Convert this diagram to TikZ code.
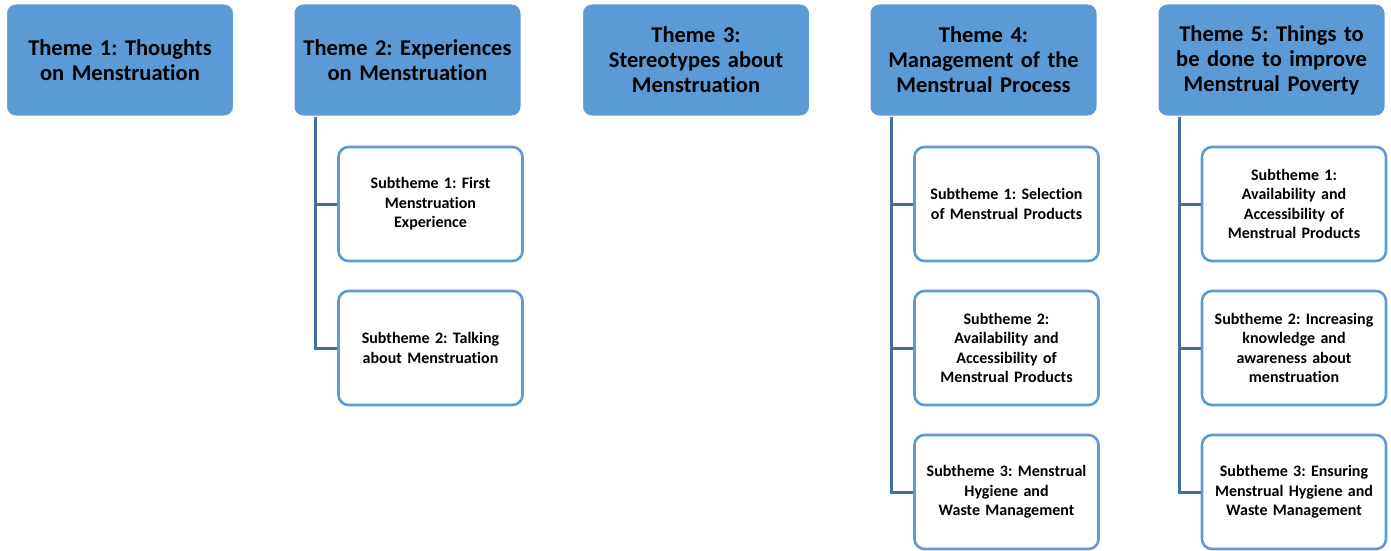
\documentclass[tikz,border=0pt]{standalone}
\usepackage{fontspec}
\setmainfont{Carlito}[Ligatures=NoCommon]
\frenchspacing
\definecolor{themefill}{RGB}{91,155,213}
\definecolor{subborder}{RGB}{91,155,213}
\definecolor{linkline}{RGB}{65,113,156}
\begin{document}
\begin{tikzpicture}[x=1pt,y=-1pt,
  theme/.style={draw=white, line width=1pt, fill=themefill, rounded corners=9pt,
    minimum width=227pt, minimum height=112pt, inner sep=0pt, align=center,
    font=\fontsize{22.5}{25}\selectfont\bfseries, text width=222pt},
  sub/.style={draw=subborder, line width=2.6pt, fill=white, rounded corners=10pt,
    minimum width=184pt, minimum height=114pt, inner sep=0pt, align=center,
    font=\fontsize{16}{19.5}\selectfont\bfseries, text width=180pt},
  link/.style={draw=linkline, line width=3pt}]
\useasboundingbox (0,0) rectangle (1391,551);
% themes
\node[theme] (t1) at (120,60) {Theme 1: Thoughts\\on Menstruation};
\node[theme] (t2) at (407.5,60) {Theme 2: Experiences\\on Menstruation};
\node[theme] (t3) at (696,60) {Theme 3:\\Stereotypes about\\Menstruation};
\node[theme] (t4) at (983.5,60) {Theme 4:\\Management of the\\Menstrual Process};
\node[theme] (t5) at (1271.5,60) {Theme 5: Things to\\be done to improve\\Menstrual Poverty};
% subthemes theme 2
\node[sub] (s21) at (430.5,204) {Subtheme 1: First\\Menstruation\\Experience};
\node[sub] (s22) at (430.5,348) {Subtheme 2: Talking\\about Menstruation};
% subthemes theme 4
\node[sub] (s41) at (1006.5,204) {Subtheme 1: Selection\\of Menstrual Products};
\node[sub] (s42) at (1006.5,348) {Subtheme 2:\\Availability and\\Accessibility of\\Menstrual Products};
\node[sub] (s43) at (1006.5,492) {Subtheme 3: Menstrual\\Hygiene and\\Waste Management};
% subthemes theme 5
\node[sub] (s51) at (1294,204) {Subtheme 1:\\Availability and\\Accessibility of\\Menstrual Products};
\node[sub] (s52) at (1294,348) {Subtheme 2: Increasing\\knowledge and\\awareness about\\menstruation};
\node[sub] (s53) at (1294,492) {Subtheme 3: Ensuring\\Menstrual Hygiene and\\Waste Management};
% connectors
\coordinate (c2) at (315,0);
\coordinate (c4) at (891,0);
\coordinate (c5) at (1179,0);
\draw[link] (t2.south -| c2) |- (s22.west);
\draw[link] (c2 |- s21.west) -- (s21.west);
\draw[link] (t4.south -| c4) |- (s43.west);
\draw[link] (c4 |- s41.west) -- (s41.west);
\draw[link] (c4 |- s42.west) -- (s42.west);
\draw[link] (t5.south -| c5) |- (s53.west);
\draw[link] (c5 |- s51.west) -- (s51.west);
\draw[link] (c5 |- s52.west) -- (s52.west);
\end{tikzpicture}
\end{document}
